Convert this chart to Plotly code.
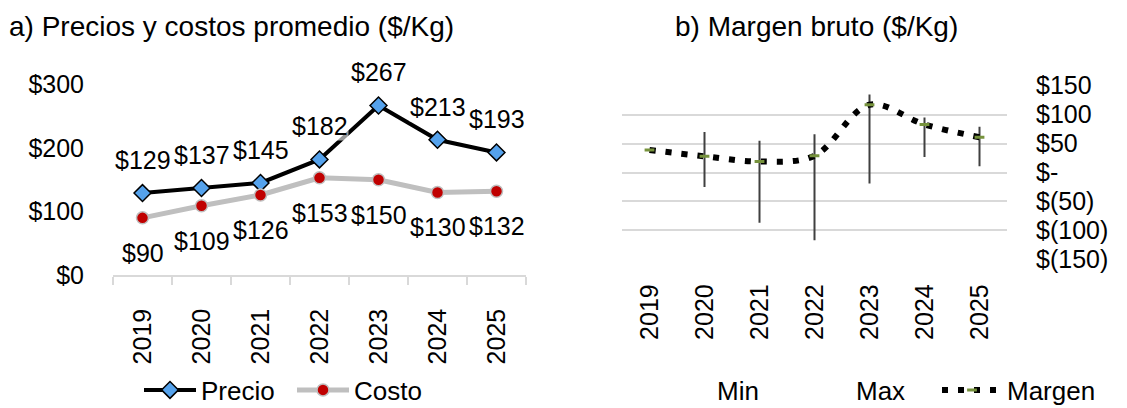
import plotly.graph_objects as go

# ---------------- data ----------------
years = ["2019", "2020", "2021", "2022", "2023", "2024", "2025"]
precio = [129, 137, 145, 182, 267, 213, 193]
costo = [90, 109, 126, 153, 150, 130, 132]
margen = [39, 28, 19, 29, 117, 83, 61]
margen_min = [None, -25, -87, -117, -19, 27, 11]
margen_max = [None, 70, 55, 66, 135, 95, 79]

left_ticks = [0, 100, 200, 300]
left_ticktext = ["$0", "$100", "$200", "$300"]
right_ticks = [150, 100, 50, 0, -50, -100, -150]
right_ticktext = ["$150", "$100", "$50", "$-", "$(50)", "$(100)", "$(150)"]

title_a = "a) Precios y costos promedio ($/Kg)"
title_b = "b) Margen bruto ($/Kg)"

FONT = "Liberation Sans, Arial, sans-serif"
# page body has an 8px margin, so the figure is sized to fit the window
OFF = 8
FW, FH = 1127 - OFF, 408 - OFF
TS = 25  # tick / label font size


def px(X):
    return (X - OFF) / FW


def py(Y):
    return 1 - (Y - OFF) / FH


fig = go.Figure()

# ---------------- left chart ----------------
fig.add_trace(go.Scatter(
    x=years, y=precio, name="Precio", mode="lines+markers",
    line=dict(color="#000000", width=4),
    marker=dict(symbol="diamond", size=13, color="#55A2EC",
                line=dict(color="#000000", width=1.5)),
    xaxis="x", yaxis="y", legend="legend",
))
fig.add_trace(go.Scatter(
    x=years, y=costo, name="Costo", mode="lines+markers",
    line=dict(color="#BFBFBF", width=5),
    marker=dict(symbol="circle", size=12, color="#C00000",
                line=dict(color="#BFBFBF", width=1.5)),
    xaxis="x", yaxis="y", legend="legend",
))

annotations = []
for i in range(len(years)):
    annotations.append(dict(
        x=i, y=precio[i], xref="x", yref="y", text=f"${precio[i]}",
        showarrow=False, yshift=33, font=dict(family=FONT, size=TS, color="#000"),
        bgcolor="rgba(255,255,255,0.6)", borderpad=0,
    ))
for i in range(len(years)):
    annotations.append(dict(
        x=i, y=costo[i], xref="x", yref="y", text=f"${costo[i]}",
        showarrow=False, yshift=-35, font=dict(family=FONT, size=TS, color="#000"),
        bgcolor="rgba(255,255,255,0.6)", borderpad=0,
    ))

# ---------------- right chart ----------------
seg_x, seg_y = [], []
for i, yr in enumerate(years):
    if margen_min[i] is None or margen_max[i] is None:
        continue
    seg_x += [yr, yr, None]
    seg_y += [margen_min[i], margen_max[i], None]

fig.add_trace(go.Scatter(
    x=years, y=margen_min, name="Min", mode="lines",
    line=dict(color="rgba(0,0,0,0)", width=1),
    xaxis="x2", yaxis="y2", legend="legend2", hoverinfo="skip",
))
fig.add_trace(go.Scatter(
    x=years, y=margen_max, name="Max", mode="lines",
    line=dict(color="rgba(0,0,0,0)", width=1),
    xaxis="x2", yaxis="y2", legend="legend2", hoverinfo="skip",
))
fig.add_trace(go.Scatter(
    x=seg_x, y=seg_y, mode="lines", showlegend=False,
    line=dict(color="#404040", width=2),
    xaxis="x2", yaxis="y2", hoverinfo="skip",
))
fig.add_trace(go.Scatter(
    x=years, y=margen, name="Margen", mode="lines+markers",
    line=dict(color="#000000", width=6, dash="6px,10px", shape="spline"),
    marker=dict(symbol="line-ew", size=7, color="#76923C",
                line=dict(color="#76923C", width=3)),
    xaxis="x2", yaxis="y2", legend="legend3",
))

# titles
annotations.append(dict(x=px(8), y=py(26.5), xref="paper", yref="paper",
                        xanchor="left", yanchor="middle", text=title_a, showarrow=False,
                        borderpad=0, font=dict(family=FONT, size=28, color="#000")))
annotations.append(dict(x=px(816), y=py(26.5), xref="paper", yref="paper",
                        xanchor="center", yanchor="middle", text=title_b, showarrow=False,
                        borderpad=0, font=dict(family=FONT, size=28, color="#000")))

tickfont = dict(family=FONT, size=TS, color="#000")
legfont = dict(family=FONT, size=26, color="#000")
LEG_Y = py(390)

fig.update_layout(
    width=FW, height=FH,
    margin=dict(l=0, r=0, t=0, b=0, autoexpand=False),
    paper_bgcolor="white", plot_bgcolor="white",
    font=dict(family=FONT, size=TS, color="#000"),
    annotations=annotations,
    xaxis=dict(domain=[px(113), px(526)], anchor="y", type="category",
               range=[-0.5, 6.5],
               showline=True, linecolor="#D9D9D9", linewidth=1.5,
               ticks="outside", ticklen=8, tickcolor="#D9D9D9", tickwidth=1.5,
               tickson="boundaries", tickangle=-90, tickfont=tickfont,
               ticklabelstandoff=22, showgrid=False, zeroline=False, fixedrange=True),
    yaxis=dict(domain=[py(275), py(84.5)], anchor="x", range=[0, 300],
               tickvals=left_ticks, ticktext=left_ticktext, tickfont=tickfont,
               showgrid=False, zeroline=False, showline=False,
               ticklabelstandoff=28, fixedrange=True),
    xaxis2=dict(domain=[px(622), px(1007)], anchor="y2", type="category",
                range=[-0.5, 6.5],
                showline=False, ticks="", tickangle=-90, tickfont=tickfont,
                ticklabelstandoff=19, showgrid=False, zeroline=False, fixedrange=True),
    yaxis2=dict(domain=[py(259.3), py(85.7)], anchor="x2", range=[-150, 150],
                side="right", tickvals=right_ticks, ticktext=right_ticktext,
                tickfont=tickfont, showgrid=True, gridcolor="#D9D9D9", gridwidth=1.5,
                zeroline=False, showline=False, ticklabelstandoff=28, fixedrange=True),
    legend=dict(orientation="h", x=px(139), y=LEG_Y, xanchor="left",
                yanchor="middle", font=legfont,
                bgcolor="rgba(0,0,0,0)", itemwidth=52, entrywidth=86,
                entrywidthmode="pixels"),
    legend2=dict(orientation="h", x=px(647), y=LEG_Y, xanchor="left",
                 yanchor="middle", font=legfont,
                 bgcolor="rgba(0,0,0,0)", itemwidth=60, entrywidth=64,
                 entrywidthmode="pixels"),
    legend3=dict(orientation="h", x=px(937), y=LEG_Y, xanchor="left",
                 yanchor="middle", font=legfont,
                 bgcolor="rgba(0,0,0,0)", itemwidth=60),
    showlegend=True,
)

fig.write_html("out.html")
